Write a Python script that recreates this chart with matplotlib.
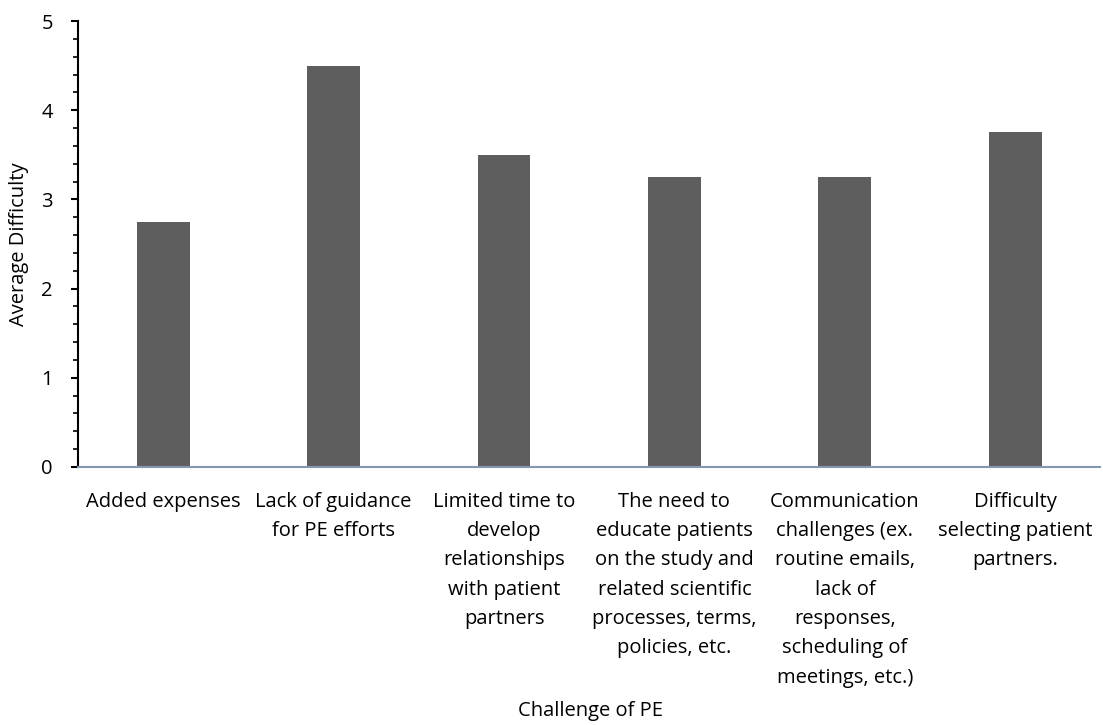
import matplotlib
matplotlib.use("Agg")
import matplotlib.pyplot as plt
from matplotlib.ticker import MultipleLocator

categories = [
    "Added expenses",
    "Lack of guidance\nfor PE efforts",
    "Limited time to\ndevelop\nrelationships\nwith patient\npartners",
    "The need to\neducate patients\non the study and\nrelated scientific\nprocesses, terms,\npolicies, etc.",
    "Communication\nchallenges (ex.\nroutine emails,\nlack of\nresponses,\nscheduling of\nmeetings, etc.)",
    "Difficulty\nselecting patient\npartners.",
]
difficulty = [2.75, 4.5, 3.5, 3.25, 3.25, 3.75]

plt.rcParams['font.family'] = ['Open Sans', 'DejaVu Sans']

fig = plt.figure(figsize=(11.03, 7.25), dpi=100)
ax = fig.add_axes([0.0707, 0.356, 0.927, 0.615])

x = list(range(len(categories)))
ax.bar(x, difficulty, width=0.31, color="#5e5e5e", zorder=2)

ax.set_xlim(-0.5, len(categories) - 0.5)
ax.set_ylim(0, 5)
ax.yaxis.set_major_locator(MultipleLocator(1))
ax.yaxis.set_minor_locator(MultipleLocator(0.2))
ax.tick_params(axis="y", which="major", length=5, width=1.5, labelsize=14.5, colors="black", pad=13)
ax.tick_params(axis="y", which="minor", length=3.5, width=1.2)

ax.set_xticks(x)
ax.set_xticklabels(categories, fontsize=14.5, linespacing=1.62, va="top")
ax.tick_params(axis="x", direction="in", length=5, color="#8497b0", pad=18)

for s in ["top", "right"]:
    ax.spines[s].set_visible(False)
ax.spines["left"].set_linewidth(1.5)
ax.spines["bottom"].set_color("#8497b0")
ax.spines["bottom"].set_linewidth(1.5)
ax.spines["bottom"].set_zorder(3)

ax.set_ylabel("Average Difficulty", fontsize=14.5)
ax.yaxis.set_label_coords(-0.048, 0.5)
fig.text(0.535, 0.019, "Challenge of PE", fontsize=14.5, ha="center", va="center")

fig.savefig("out.png", dpi=100)
